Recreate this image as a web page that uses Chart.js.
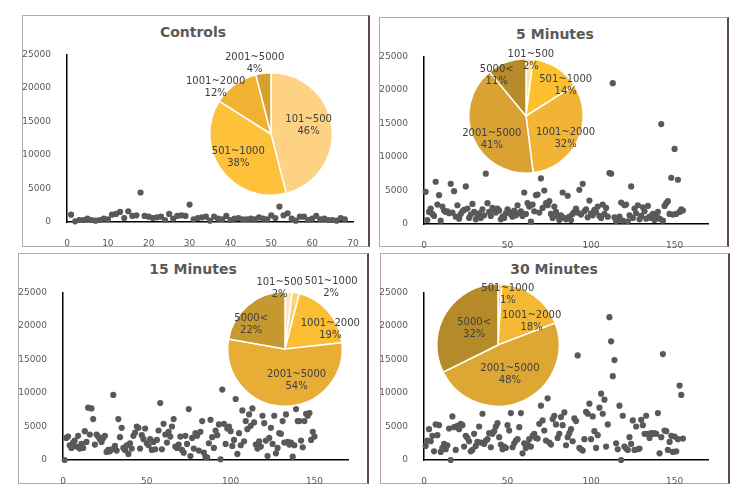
<!DOCTYPE html>
<html>
<head>
<meta charset="utf-8">
<script src="https://cdn.jsdelivr.net/npm/chart.js@4.4.0/dist/chart.umd.min.js"></script>
<style>
  body { margin: 0; background: #fff; }
  #page { position: relative; width: 750px; height: 496px; overflow: hidden; font-family: "DejaVu Sans", Verdana, sans-serif; }
  .panel { position: absolute; box-sizing: border-box; border: 1px solid #b9a6aa; border-right: 2px solid #5e4848; background: #fff; }
  .title { position: absolute; font-weight: bold; font-size: 14px; line-height: 16px; color: #595959; transform: translateX(-50%); white-space: nowrap; }
  canvas { position: absolute; }
</style>
</head>
<body>
<div id="page"></div>
<script>
// scatter values, one per sample (x = sample number)
const controlsValues = [1100, 100, 300, 300, 500, 300, 200, 300, 500, 400,
  1100, 1200, 1500, 600, 1600, 900, 1000, 4400, 900, 800,
  600, 700, 800, 300, 1200, 500, 900, 1000, 900, 2600,
  400, 600, 700, 800, 200, 800, 500, 400, 900, 300,
  500, 600, 400, 400, 500, 400, 700, 500, 400, 1000,
  600, 2300, 1000, 1300, 500, 200, 800, 800, 300, 500,
  900, 400, 500, 300, 300, 200, 600, 400];

const min5Values = [4800, 600, 1800, 2300, 1500, 1200, 6300, 2900, 4300, 500,
  2600, 2000, 1800, 1900, 1600, 6000, 1700, 4900, 1100, 2800,
  800, 1500, 1900, 2100, 5600, 2300, 900, 1400, 3000, 1800,
  700, 1200, 1600, 900, 2200, 1300, 7500, 3100, 1800, 1200,
  2400, 2100, 1700, 2300, 2000, 700, 1100, 900, 1600, 2200,
  1800, 1400, 1100, 2000, 1300, 2800, 1600, 1900, 1200, 4700,
  1500, 3100, 2600, 350, 2900, 1900, 4300, 4400, 1700, 6800,
  2400, 5000, 3100, 2800, 3400, 1500, 900, 2600, 1800, 1200,
  600, 1300, 4700, 900, 700, 4200, 1100, 600, 1500, 1800,
  2300, 1700, 5100, 1400, 6000, 1900, 2200, 1000, 3500, 1600,
  1300, 2100, 1800, 2600, 1200, 900, 2900, 1500, 2400, 1100,
  7600, 7500, 21000, 1000, 400, 600, 1100, 3200, 500, 2800,
  2900, 400, 1300, 5600, 900, 2300, 1600, 2800, 700, 1200,
  2500, 1900, 800, 2700, 1100, 900, 1500, 600, 1300, 1800,
  800, 14900, 500, 2700, 3100, 3400, 1500, 6900, 1400, 11200,
  1500, 6600, 1800, 2200, 2000];

const min15Values = [0, 3300, 3500, 2200, 1800, 2600, 2900, 2000, 3600, 1700,
  2400, 1800, 4300, 2700, 7800, 3800, 7700, 6100, 2300, 3800,
  3500, 3100, 2700, 3300, 3600, 1200, 1500, 1300, 1600, 9700,
  2100, 1400, 6100, 3400, 4800, 1800, 1500, 2200, 900, 2500,
  1700, 3600, 4100, 5000, 4800, 1700, 3700, 3100, 4700, 2500,
  2200, 3100, 1500, 2700, 1600, 3000, 4400, 8500, 1600, 5400,
  3800, 2600, 4200, 3500, 5000, 6100, 2000, 1800, 2300, 3500,
  1500, 1100, 3600, 2400, 7600, 600, 3300, 1700, 4000, 3600,
  1400, 4200, 5800, 1100, 500, 400, 2500, 6000, 3400, 1800,
  4400, 3700, 5300, 100, 10500, 5400, 2400, 4700, 5000, 4300,
  2100, 3000, 9100, 900, 4000, 2200, 7400, 2800, 5800, 4600,
  6800, 5100, 7700, 5600, 2300, 1700, 2800, 2000, 6600, 5500,
  2900, 600, 3300, 4800, 2400, 6600, 1000, 1800, 4000, 3900,
  5800, 2600, 6800, 2700, 2300, 2600, 500, 2200, 7600, 5800,
  5800, 2900, 1900, 5800, 6900, 6600, 7000, 3000, 4200, 3500];

const min30Values = [2100, 2900, 4600, 2800, 3600, 1300, 5300, 3700, 5200, 1200,
  1800, 2400, 1600, 2200, 4700, 0, 6500, 4900, 1500, 5100,
  4600, 5400, 5200, 2000, 3600, 3300, 2800, 1300, 1500, 3900,
  2100, 2700, 5000, 2600, 6900, 2400, 2900, 3100, 4000, 1900,
  3900, 4300, 5000, 5500, 3400, 2300, 1600, 2000, 1800, 5200,
  4400, 7000, 1900, 2500, 2900, 3100, 4900, 7000, 1000, 2500,
  1800, 2300, 3100, 2000, 3600, 3900, 3300, 3200, 5400, 8100,
  5900, 4400, 2900, 9200, 2600, 2300, 6100, 6600, 5300, 3300,
  3900, 6400, 5200, 7100, 2200, 3400, 4000, 4600, 2800, 6200,
  5800, 15600, 1800, 1600, 1400, 3100, 7200, 6900, 8400, 3100,
  6500, 4300, 1800, 3700, 7800, 9900, 6900, 9000, 2000, 5300,
  21300, 17700, 12500, 14900, 2500, 1600, 8100, 0, 6600, 2000,
  1700, 1500, 3400, 2400, 5900, 1500, 5000, 1600, 1700, 6000,
  5200, 3900, 6600, 3900, 3300, 4000, 3900, 4000, 3900, 7000,
  1000, 3400, 15800, 4400, 4300, 1500, 2700, 3600, 1200, 3500,
  1300, 3100, 11100, 9700, 3200];

// pie categories and shares (%)
const controlsPieLabels = ['101~500', '501~1000', '1001~2000', '2001~5000'];
const controlsPieShares = [46, 38, 12, 4];
const min5PieLabels = ['101~500', '501~1000', '1001~2000', '2001~5000', '5000<'];
const min5PieShares = [2, 14, 32, 41, 11];
const min15PieLabels = ['101~500', '501~1000', '1001~2000', '2001~5000', '5000<'];
const min15PieShares = [2, 2, 19, 54, 22];
const min30PieLabels = ['501~1000', '1001~2000', '2001~5000', '5000<'];
const min30PieShares = [1, 18, 48, 32];

// tick labels
const yTicks = [0, 5000, 10000, 15000, 20000, 25000];
const controlsXTicks = [0, 10, 20, 30, 40, 50, 60, 70];
const minutesXTicks = [0, 50, 100, 150];

const panels = [
  { title: 'Controls', titleAt: [193, 24], frame: [22, 15, 348, 232], values: controlsValues, xTicks: controlsXTicks, xMax: 70,
    box: [67, 53, 353, 222],
    pie: { labels: controlsPieLabels, shares: controlsPieShares, cx: 271, cy: 134, r: 61,
      colors: ['#FDD283', '#FDC13A', '#EFB233', '#D5A02C'],
      spots: [[0.63, 77], [0.66, 234], [1.18, 310], [1.19, 347]] } },
  { title: '5 Minutes', titleAt: [555, 26], frame: [379, 17, 350, 230], values: min5Values, xTicks: minutesXTicks, xMax: 170,
    box: [424, 55, 708, 224],
    pie: { labels: min5PieLabels, shares: min5PieShares, cx: 526, cy: 116, r: 57,
      colors: ['#FDE49C', '#FDC130', '#F2B435', '#DAA233', '#B78B29'],
      spots: [[0.98, 5], [0.88, 52], [0.79, 119], [0.72, 236], [0.87, 324]] } },
  { title: '15 Minutes', titleAt: [193, 261], frame: [18, 253, 351, 231], values: min15Values, xTicks: minutesXTicks, xMax: 170,
    box: [63, 291, 348, 460],
    pie: { labels: min15PieLabels, shares: min15PieShares, cx: 285, cy: 349, r: 57,
      colors: ['#FCE6C2', '#F9D27E', '#FABD33', '#E7AD35', '#C59830'],
      spots: [[1.07, 355], [1.34, 37], [0.86, 67], [0.59, 160], [0.73, 306]] } },
  { title: '30 Minutes', titleAt: [554, 261], frame: [380, 253, 350, 231], values: min30Values, xTicks: minutesXTicks, xMax: 170,
    box: [424, 291, 708, 460],
    pie: { labels: min30PieLabels, shares: min30PieShares, cx: 498, cy: 345, r: 61,
      colors: ['#F9D550', '#F4B834', '#DDA733', '#B48B28'],
      spots: [[0.84, 11], [0.67, 55], [0.52, 158], [0.47, 304]] } }
];

const page = document.getElementById('page');
const tickFont = { family: '"DejaVu Sans", Verdana, sans-serif', size: 9 };
const Y_W = 60, X_H = 28, PAD_T = 12, PAD_R = 14;

// draws "label / nn%" for each slice, placed around the arc centre
const pieLabels = {
  id: 'pieLabels',
  afterDatasetsDraw(chart, args, opts) {
    const ctx = chart.ctx;
    const meta = chart.getDatasetMeta(0);
    const ds = chart.data.datasets[0];
    ctx.save();
    ctx.font = '10px "DejaVu Sans", Verdana, sans-serif';
    ctx.fillStyle = '#404040';
    ctx.textAlign = 'center';
    ctx.textBaseline = 'middle';
    meta.data.forEach((arc, i) => {
      const [f, deg] = opts.spots[i];
      const a = deg * Math.PI / 180 - Math.PI / 2;
      const x = arc.x + Math.cos(a) * arc.outerRadius * f;
      const y = arc.y + Math.sin(a) * arc.outerRadius * f;
      ctx.fillText(chart.data.labels[i], x, y - 6);
      ctx.fillText(ds.data[i] + '%', x, y + 6);
    });
    ctx.restore();
  }
};

function addCanvas(left, top, w, h) {
  const c = document.createElement('canvas');
  c.width = w; c.height = h;
  c.style.left = left + 'px'; c.style.top = top + 'px';
  c.style.width = w + 'px'; c.style.height = h + 'px';
  page.appendChild(c);
  return c;
}

panels.forEach(p => {
  const fr = document.createElement('div');
  fr.className = 'panel';
  fr.style.left = p.frame[0] + 'px'; fr.style.top = p.frame[1] + 'px';
  fr.style.width = p.frame[2] + 'px'; fr.style.height = p.frame[3] + 'px';
  page.appendChild(fr);

  const t = document.createElement('div');
  t.className = 'title';
  t.textContent = p.title;
  t.style.left = p.titleAt[0] + 'px'; t.style.top = p.titleAt[1] + 'px';
  page.appendChild(t);

  const [l, tp, r, b] = p.box;
  const sc = addCanvas(l - Y_W, tp - PAD_T, (r - l) + Y_W + PAD_R, (b - tp) + PAD_T + X_H);
  new Chart(sc, {
    type: 'scatter',
    data: {
      datasets: [{
        data: p.values.map((v, i) => ({ x: i + 1, y: v })),
        backgroundColor: '#595959',
        borderWidth: 0,
        pointRadius: 3.1,
        clip: false
      }]
    },
    options: {
      responsive: false,
      animation: false,
      events: [],
      layout: { padding: { top: PAD_T, right: PAD_R, left: 0, bottom: 0 } },
      plugins: { legend: { display: false }, tooltip: { enabled: false } },
      scales: {
        x: {
          type: 'linear', min: 0, max: p.xMax,
          grid: { display: false },
          border: { color: '#000', width: 1.5 },
          afterBuildTicks: s => { s.ticks = p.xTicks.map(v => ({ value: v })); },
          afterFit: s => { s.height = X_H; },
          ticks: { color: '#595959', font: tickFont, padding: 8, maxRotation: 0, autoSkip: false,
            callback: v => String(v) }
        },
        y: {
          min: 0, max: 25000,
          grid: { display: false },
          border: { color: '#000', width: 1.5 },
          afterBuildTicks: s => { s.ticks = yTicks.map(v => ({ value: v })); },
          afterFit: s => { s.width = Y_W; },
          ticks: { color: '#595959', font: tickFont, padding: 8, callback: v => String(v) }
        }
      }
    }
  });

  const S = 240;
  const pc = addCanvas(p.pie.cx - S / 2, p.pie.cy - S / 2, S, S);
  const pad = S / 2 - p.pie.r - 1;
  new Chart(pc, {
    type: 'pie',
    data: {
      labels: p.pie.labels,
      datasets: [{
        data: p.pie.shares,
        backgroundColor: p.pie.colors,
        borderColor: '#fff',
        borderWidth: 1.5
      }]
    },
    options: {
      responsive: false,
      animation: false,
      events: [],
      layout: { padding: pad },
      plugins: {
        legend: { display: false },
        tooltip: { enabled: false },
        pieLabels: { spots: p.pie.spots }
      }
    },
    plugins: [pieLabels]
  });
});
</script>
</body>
</html>
